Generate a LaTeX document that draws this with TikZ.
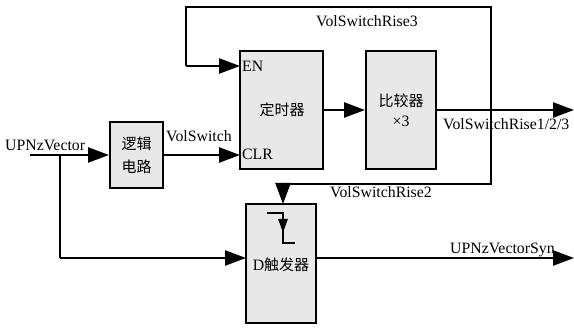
\documentclass[tikz,border=0pt]{standalone}
\usepackage{fontspec}
\setmainfont{Liberation Serif}
\newfontfamily\cjk{Noto Sans CJK SC}
\usetikzlibrary{arrows.meta}
\begin{document}
\begin{tikzpicture}[x=1pt,y=-1pt,
  blk/.style={draw,line width=2pt,fill=black!9,inner sep=0pt},
  wire/.style={line width=2.5pt,line join=miter},
  arr/.style={wire,-{Triangle[length=21pt,width=15pt]}},
  lbl/.style={font=\fontsize{15.8}{17}\selectfont,inner sep=0pt},
  cjkl/.style={font=\fontsize{15}{17}\selectfont\cjk,inner sep=0pt}]
\useasboundingbox (0,0) rectangle (574,328);
% blocks
\node[blk,minimum width=83pt,minimum height=118pt] (timer) at (281.5,110) {};
\node[blk,minimum width=70pt,minimum height=118pt] (comp) at (401,110) {};
\node[blk,minimum width=53pt,minimum height=66pt] (logic) at (136.5,155) {};
\node[blk,minimum width=70pt,minimum height=119pt] (dff) at (281,263.5) {};
% block texts
\node[cjkl] (ttimer) at (282,110) {定时器};
\node[cjkl] (tcomp) at (401,101) {比较器};
\node[lbl] (tx3) at (401,121) {×3};
\node[cjkl] (tlog1) at (136.5,144) {逻辑};
\node[cjkl] (tlog2) at (136.5,167) {电路};
\node[lbl] (tdff) at (281,265) {D{\cjk\fontsize{15}{17}\selectfont 触发器}};
\node[lbl,anchor=base west] (ten) at (242,72) {EN};
\node[lbl,anchor=base west] (tclr) at (242,160) {CLR};
% coordinates
\coordinate (inp) at (30,155);
\coordinate (br) at (60,155);
\coordinate (din) at (246,258);
\coordinate (en) at (240,66);
\coordinate (clr) at (240,155);
\coordinate (out1) at (574,110);
\coordinate (dout) at (316,258);
\coordinate (out2) at (574,258);
\coordinate (j) at (491,110);
\coordinate (tl) at (186,7);
\coordinate (ck) at (283,184);
\coordinate (ckin) at (283,204);
% connectors
\draw[arr] (inp) -- (logic.west |- inp);
\draw[wire] (br) -- (br |- din);
\draw[arr] (br |- din) -- (din);
\draw[arr] (logic.east |- clr) -- (clr);
\draw[arr] (timer.east |- j) -- (comp.west |- j);
\draw[arr] (comp.east |- j) -- (out1);
\draw[arr] (dout) -- (out2);
\draw[wire] (j) -- (j |- tl) -- (tl) -- (tl |- en);
\draw[arr] (tl |- en) -- (en);
\draw[wire] (j) -- (j |- ck) -- (ck);
\draw[arr] (ck) -- (ckin);
% clock symbol
\coordinate (c1) at (267,213);
\coordinate (c2) at (283,213);
\coordinate (c3) at (283,243);
\coordinate (c4) at (295,243);
\draw[wire] (c1) -- (c2) -- (c3) -- (c4);
\draw[wire,-{Triangle[length=14pt,width=9pt]}] (c2) -- (283,233);
% labels
\node[lbl,anchor=base west] (lup) at (5,151) {UPNzVector};
\node[lbl,anchor=base west] (lvs) at (166,142) {VolSwitch};
\node[lbl,anchor=base west] (lr3) at (316,27) {VolSwitchRise3};
\node[lbl,anchor=base west] (lr123) at (443,130) {VolSwitchRise1/2/3};
\node[lbl,anchor=base west] (lr2) at (330,198) {VolSwitchRise2};
\node[lbl,anchor=base west] (lsyn) at (450,254) {UPNzVectorSyn};
\end{tikzpicture}
\end{document}
